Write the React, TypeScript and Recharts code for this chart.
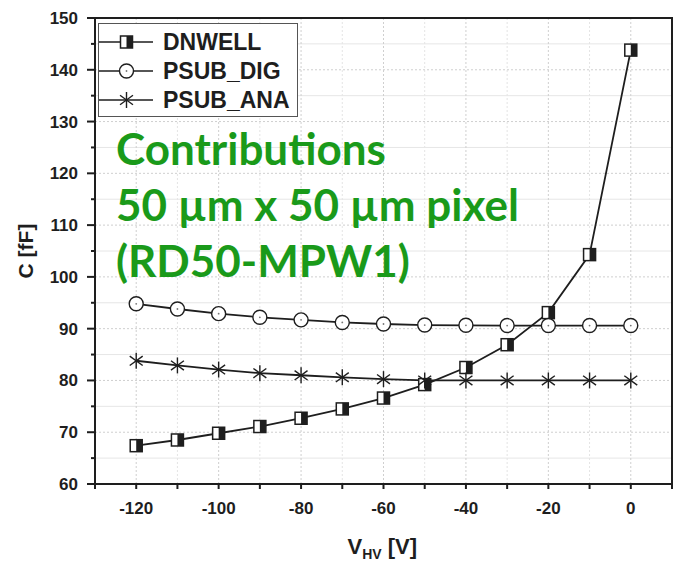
import { CartesianGrid, Line, LineChart, ReferenceArea, XAxis, YAxis } from "recharts";

const VOLTAGES = [-120, -110, -100, -90, -80, -70, -60, -50, -40, -30, -20, -10, 0];
const DNWELL = [67.4, 68.5, 69.8, 71.1, 72.7, 74.5, 76.6, 79.2, 82.5, 86.9, 93.1, 104.3, 143.8];
const PSUB_DIG = [94.8, 93.8, 92.9, 92.2, 91.7, 91.2, 90.9, 90.7, 90.65, 90.6, 90.6, 90.6, 90.6];
const PSUB_ANA = [83.8, 82.9, 82.1, 81.4, 81.0, 80.6, 80.25, 80.0, 80.0, 80.0, 80.0, 80.0, 80.0];

const X_TICKS = [-130, -120, -110, -100, -90, -80, -70, -60, -50, -40, -30, -20, -10, 0, 10];
const X_LABELS = [-120, -100, -80, -60, -40, -20, 0];
const Y_TICKS = [60, 65, 70, 75, 80, 85, 90, 95, 100, 105, 110, 115, 120, 125, 130, 135, 140, 145, 150];
const Y_LABELS = [60, 70, 80, 90, 100, 110, 120, 130, 140, 150];

const SERIES = [
  { key: "DNWELL", name: "DNWELL", marker: "halfsquare" },
  { key: "PSUB_DIG", name: "PSUB_DIG", marker: "circle" },
  { key: "PSUB_ANA", name: "PSUB_ANA", marker: "star" },
];

const NOTE = ["Contributions", "50 µm x 50 µm pixel", "(RD50-MPW1)"];

const data = VOLTAGES.map((v, i) => ({
  v,
  DNWELL: DNWELL[i],
  PSUB_DIG: PSUB_DIG[i],
  PSUB_ANA: PSUB_ANA[i],
}));

const INK = "#1e1e1e";
const ARIAL = "'Liberation Sans', Arial, sans-serif";
const TICK_FONT = { fontFamily: ARIAL, fontWeight: 700, fontSize: 17, fill: INK };

function Marker({ kind, cx, cy }: { kind: string; cx: number; cy: number }) {
  if (kind === "halfsquare") {
    return (
      <g>
        <rect x={cx - 6} y={cy - 6} width={12} height={12} fill="#fff" stroke={INK} strokeWidth={1.5} />
        <rect x={cx} y={cy - 6} width={6} height={12} fill={INK} />
      </g>
    );
  }
  if (kind === "circle") {
    return (
      <g>
        <circle cx={cx} cy={cy} r={7} fill="#fff" stroke={INK} strokeWidth={1.4} />
        <circle cx={cx} cy={cy} r={0.9} fill="#777" />
      </g>
    );
  }
  const r = 8;
  const dx = r * Math.cos(Math.PI / 5);
  const dy = r * Math.sin(Math.PI / 5);
  return (
    <g stroke={INK} strokeWidth={1.4}>
      <line x1={cx} y1={cy - r} x2={cx} y2={cy + r} />
      <line x1={cx - dx} y1={cy - dy} x2={cx + dx} y2={cy + dy} />
      <line x1={cx - dx} y1={cy + dy} x2={cx + dx} y2={cy - dy} />
    </g>
  );
}

function dotFor(kind: string) {
  return (props: any) => {
    if (props.cx == null || props.cy == null) return <g key={props.key} />;
    return <Marker key={`${kind}-${props.index}`} kind={kind} cx={props.cx} cy={props.cy} />;
  };
}

function XTick(props: any) {
  const { x, y, payload } = props;
  const label = X_LABELS.includes(payload.value) ? String(payload.value) : "";
  return (
    <text x={x} y={y} dy="0.71em" textAnchor="middle" {...TICK_FONT}>
      {label}
    </text>
  );
}

// y ticks: long line at labelled values, short one in between
function YTick(props: any) {
  const { x, y, payload } = props;
  const axisX = x + 8 + 9;
  const major = Y_LABELS.includes(payload.value);
  return (
    <g>
      <line x1={axisX - (major ? 8 : 4)} x2={axisX} y1={y} y2={y} stroke={INK} strokeWidth={2} />
      {major && (
        <text x={x} y={y} dy="0.355em" textAnchor="end" {...TICK_FONT}>
          {payload.value}
        </text>
      )}
    </g>
  );
}

function LegendBox() {
  return (
    <div
      style={{
        position: "absolute",
        left: 98,
        top: 23,
        width: 200,
        height: 94,
        border: "1px solid #555",
        background: "#fff",
        boxSizing: "border-box",
        paddingTop: 3.5,
      }}
    >
      {SERIES.map((s) => (
        <div key={s.key} style={{ display: "flex", alignItems: "center", height: 29 }}>
          <svg width={64} height={20} style={{ flex: "none" }}>
            <line x1={0} x2={54} y1={10} y2={10} stroke={INK} strokeWidth={1.6} />
            <Marker kind={s.marker} cx={27.5} cy={10} />
          </svg>
          <span style={{ fontFamily: ARIAL, fontWeight: 700, fontSize: 23, color: INK, lineHeight: "23px" }}>
            {s.name}
          </span>
        </div>
      ))}
    </div>
  );
}

export default function App() {
  return (
    <div style={{ position: "absolute", left: 0, top: 0, width: 675, height: 561, background: "#fff" }}>
      <LineChart width={675} height={561} data={data} margin={{ top: 18, right: 3, bottom: 0, left: 0 }}>
        <CartesianGrid horizontal={false} verticalValues={[-110, -90, -70, -50, -30, -10]} stroke="#e4e4e4" strokeDasharray="2 2" />
        <CartesianGrid
          horizontalValues={[65, 75, 85, 95, 105, 115, 125, 135, 145]}
          vertical={false}
          stroke="#e6e6e6"
        />
        <CartesianGrid
          horizontalValues={[70, 80, 90, 100, 110, 120, 130, 140]}
          verticalValues={[-120, -100, -80, -60, -40, -20, 0]}
          stroke="#cfcfcf"
          strokeDasharray="2 2"
        />
        <XAxis
          dataKey="v"
          type="number"
          domain={[-130, 10]}
          ticks={X_TICKS}
          interval={0}
          height={77}
          tickSize={5}
          tickMargin={13}
          tick={<XTick />}
          tickLine={{ stroke: INK, strokeWidth: 2 }}
          axisLine={{ stroke: INK, strokeWidth: 2 }}
          label={{
            content: ({ viewBox }: any) => (
              <text
                x={viewBox.x + viewBox.width / 2 - 36}
                y={viewBox.y + 70}
                fontFamily={ARIAL}
                fontWeight={700}
                fontSize={22}
                fill={INK}
              >
                V
                <tspan fontSize={14} dy={5}>
                  HV
                </tspan>
                <tspan dy={-5}> [V]</tspan>
              </text>
            ),
          }}
        />
        <YAxis
          type="number"
          domain={[60, 150]}
          ticks={Y_TICKS}
          interval={0}
          width={95}
          tickSize={8}
          tickMargin={9}
          tick={<YTick />}
          tickLine={false}
          axisLine={{ stroke: INK, strokeWidth: 2 }}
          label={{
            content: ({ viewBox }: any) => {
              const cx = 25;
              const cy = viewBox.y + viewBox.height / 2;
              return (
                <text
                  x={cx}
                  y={cy}
                  transform={`rotate(-90 ${cx} ${cy})`}
                  textAnchor="middle"
                  dominantBaseline="central"
                  fontFamily={ARIAL}
                  fontWeight={700}
                  fontSize={21}
                  fill={INK}
                >
                  C [fF]
                </text>
              );
            },
          }}
        />
        <ReferenceArea x1={-130} x2={10} y1={60} y2={150} fill="none" stroke={INK} strokeWidth={2} ifOverflow="visible" />
        {SERIES.map((s) => (
          <Line
            key={s.key}
            dataKey={s.key}
            name={s.name}
            stroke={INK}
            strokeWidth={1.8}
            dot={dotFor(s.marker)}
            activeDot={false}
            isAnimationActive={false}
          />
        ))}
      </LineChart>
      <LegendBox />
      <div
        style={{
          position: "absolute",
          left: 116,
          top: 120,
          fontFamily: "Lato, 'Noto Sans', sans-serif",
          fontWeight: 700,
          fontSize: 44,
          lineHeight: "56px",
          color: "#1a9a1a",
          whiteSpace: "nowrap",
        }}
      >
        {NOTE.map((line) => (
          <div key={line}>{line}</div>
        ))}
      </div>
    </div>
  );
}
